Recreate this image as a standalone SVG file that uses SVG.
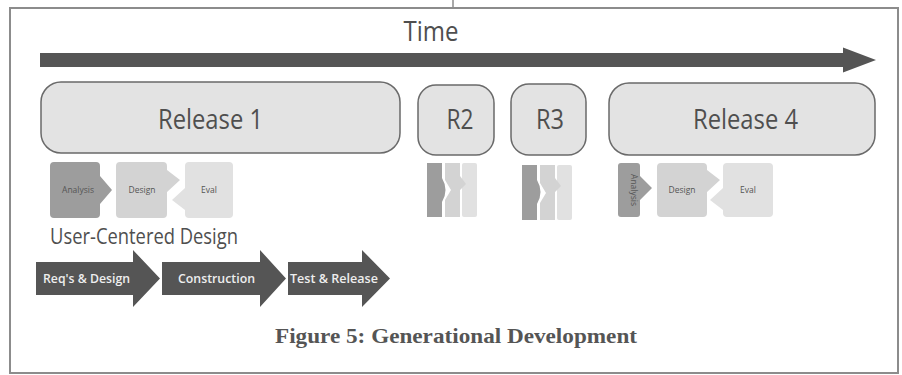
<svg xmlns="http://www.w3.org/2000/svg" width="902" height="375" viewBox="0 0 902 375">
  <style>
    .frame { fill: none; stroke: #8c8c8c; stroke-width: 2; }
    .release { fill: #e3e3e3; stroke: #6a6a6a; stroke-width: 1.5; }
    .rlabel { font-family: "Open Sans", "Liberation Sans", sans-serif; font-size: 28px; fill: #4f4f4f; text-anchor: middle; }
    .title { font-family: "Open Sans", "Liberation Sans", sans-serif; font-size: 27px; fill: #4f4f4f; text-anchor: middle; }
    .phase { font-family: "Open Sans", "Liberation Sans", sans-serif; font-size: 21px; fill: #4f4f4f; }
    .bigarrow { fill: #555; }
    .atext { font-family: "Open Sans", "Liberation Sans", sans-serif; font-weight: 600; font-size: 12.5px; fill: #eee; text-anchor: middle; }
    .mini { font-family: "Open Sans", "Liberation Sans", sans-serif; font-size: 8.5px; fill: #555; text-anchor: middle; }
    .dark { fill: #9d9d9d; }
    .mid { fill: #d3d3d3; }
    .light { fill: #e1e1e1; }
    .caption { font-family: "Liberation Serif", "Times New Roman", serif; font-weight: bold; font-size: 21px; fill: #555; text-anchor: middle; }
  </style>

  <rect width="902" height="375" fill="#fff"/>
  <!-- outer frame -->
  <rect class="frame" x="10" y="8" width="888" height="365"/>
  <line x1="453" y1="0" x2="453" y2="8" stroke="#8c8c8c" stroke-width="1.5"/>

  <!-- time axis -->
  <g id="time">
    <text class="title" x="431" y="41" textLength="55" lengthAdjust="spacingAndGlyphs">Time</text>
    <path d="M40 53 H843 V47.5 L876 60 L843 72.5 V67 H40 Z" fill="#555"/>
  </g>

  <!-- releases -->
  <g id="release1">
    <rect class="release" x="41" y="82" width="359" height="71" rx="20"/>
    <text class="rlabel" x="210.5" y="129" textLength="105" lengthAdjust="spacingAndGlyphs">Release 1</text>
  </g>
  <g id="r2">
    <rect class="release" x="418" y="85" width="76" height="70" rx="18"/>
    <text class="rlabel" x="460" y="129" textLength="27" lengthAdjust="spacingAndGlyphs">R2</text>
  </g>
  <g id="r3">
    <rect class="release" x="511" y="84" width="75" height="71" rx="18"/>
    <text class="rlabel" x="550" y="129" textLength="28" lengthAdjust="spacingAndGlyphs">R3</text>
  </g>
  <g id="release4">
    <rect class="release" x="609" y="83" width="266" height="72" rx="20"/>
    <text class="rlabel" x="745.5" y="129" textLength="105" lengthAdjust="spacingAndGlyphs">Release 4</text>
  </g>

  <!-- user-centered design cycle under Release 1 -->
  <g id="ucd1">
    <rect class="light" x="185" y="162" width="48" height="56" rx="4"/>
    <path class="mid" d="M116 166 Q116 162 120 162 H163 Q167 162 167 166 V170 L180 180 L167 192 V214 Q167 218 163 218 H120 Q116 218 116 214 Z"/>
    <path class="light" d="M185 188 L172 200 L185 210 Z"/>
    <path class="dark" d="M50 166 Q50 162 54 162 H96 Q100 162 100 166 V176 L112 190 L100 204 V214 Q100 218 96 218 H54 Q50 218 50 214 Z"/>
    <text class="mini" x="78" y="193">Analysis</text>
    <text class="mini" x="142" y="193">Design</text>
    <text class="mini" x="209" y="193">Eval</text>
  </g>

  <!-- compressed cycles for R2 and R3 -->
  <g id="ucd2">
    <rect class="light" x="462" y="163" width="15" height="54" rx="2"/>
    <path class="mid" d="M445 163 H460 V176 L466 184 L460 190 V217 H445 V200 L451 190 L445 180 Z"/>
    <path class="dark" d="M427 163 H442 V178 Q449 190 442 202 V217 H427 Z"/>
  </g>
  <g id="ucd3">
    <rect class="light" x="557" y="165" width="15" height="55" rx="2"/>
    <path class="mid" d="M540 165 H555 V178 L561 186 L555 192 V220 H540 V203 L546 193 L540 183 Z"/>
    <path class="dark" d="M522 165 H537 V180 Q544 192 537 204 V220 H522 Z"/>
  </g>

  <!-- cycle under Release 4 -->
  <g id="ucd4">
    <rect class="light" x="723" y="163" width="50" height="54" rx="4"/>
    <path class="mid" d="M657 167 Q657 163 661 163 H703 Q707 163 707 167 V170 L720 180 L707 192 V213 Q707 217 703 217 H661 Q657 217 657 213 Z"/>
    <path class="light" d="M723 188 L710 200 L723 210 Z"/>
    <path class="dark" d="M618 166 Q618 163 621 163 H637 Q640 163 640 166 V176 L652 188 L640 200 V214 Q640 217 637 217 H621 Q618 217 618 214 Z"/>
    <text class="mini" transform="translate(631 190) rotate(90)">Analysis</text>
    <text class="mini" x="682" y="193">Design</text>
    <text class="mini" x="748" y="193">Eval</text>
  </g>

  <text class="phase" x="50" y="244" textLength="188" lengthAdjust="spacingAndGlyphs">User-Centered Design</text>

  <!-- waterfall phases -->
  <g id="reqs">
    <path class="bigarrow" d="M36 262 H133 V250 L160 278.5 L133 307 V295 H36 Z"/>
    <text class="atext" x="86.5" y="283" textLength="87" lengthAdjust="spacingAndGlyphs">Req's &amp; Design</text>
  </g>
  <g id="construction">
    <path class="bigarrow" d="M162 262 H260 V250 L286 278.5 L260 307 V295 H162 Z"/>
    <text class="atext" x="216.5" y="283" textLength="77" lengthAdjust="spacingAndGlyphs">Construction</text>
  </g>
  <g id="test">
    <path class="bigarrow" d="M288 262 H362 V250 L390 278.5 L362 307 V295 H288 Z"/>
    <text class="atext" x="334" y="283" textLength="88" lengthAdjust="spacingAndGlyphs">Test &amp; Release</text>
  </g>

  <text class="caption" x="456" y="343" textLength="362" lengthAdjust="spacingAndGlyphs">Figure 5: Generational Development</text>
</svg>
